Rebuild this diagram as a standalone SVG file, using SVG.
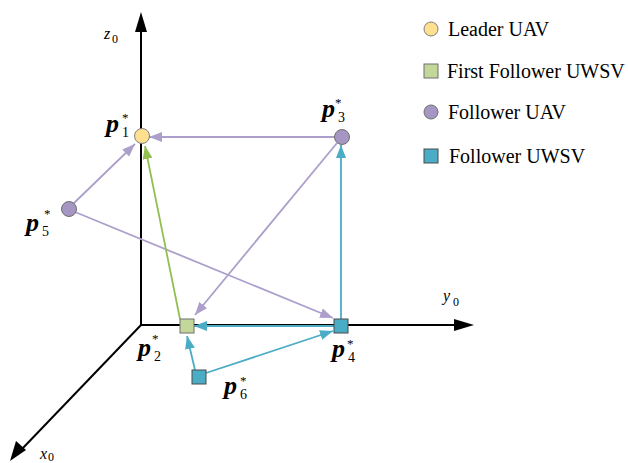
<svg xmlns="http://www.w3.org/2000/svg" width="628" height="463" viewBox="0 0 628 463">
<style>
.axis{stroke:#000;stroke-width:2;fill:none}
.ep{stroke:#AD9FCB;stroke-width:1.8;fill:none;marker-end:url(#mp)}
.eg{stroke:#92C050;stroke-width:1.8;fill:none;marker-end:url(#mg)}
.ec{stroke:#4BACC6;stroke-width:1.8;fill:none;marker-end:url(#mc)}
.leader{fill:#FFE08F;stroke:#7F7F7F;stroke-width:1}
.fuav{fill:#A596C4;stroke:#6E6E6E;stroke-width:1}
.first{fill:#C4D79B;stroke:#6E6E6E;stroke-width:1}
.fuwsv{fill:#4BACC6;stroke:#4A4A4A;stroke-width:1}
text{font-family:"Liberation Serif","Times New Roman",serif;fill:#000}
.pb{font-size:26px;font-weight:bold;font-style:italic}
.sub{font-size:14px}
.star{font-size:13px}
.ax{font-size:16px;font-style:italic}
.axs{font-size:12px}
.leg{font-size:20px}
</style>
<defs>
<marker id="mp" markerUnits="userSpaceOnUse" markerWidth="13" markerHeight="10" refX="13" refY="5" orient="auto"><path d="M0,0 L13,5 L0,10 z" fill="#AD9FCB"/></marker>
<marker id="mg" markerUnits="userSpaceOnUse" markerWidth="13" markerHeight="10" refX="13" refY="5" orient="auto"><path d="M0,0 L13,5 L0,10 z" fill="#92C050"/></marker>
<marker id="mc" markerUnits="userSpaceOnUse" markerWidth="13" markerHeight="10" refX="13" refY="5" orient="auto"><path d="M0,0 L13,5 L0,10 z" fill="#4BACC6"/></marker>
</defs>
<g id="axes">
<line class="axis" x1="141" y1="326" x2="141" y2="30"/>
<polygon points="141,12 135,32 147,32" fill="#000"/>
<line class="axis" x1="140" y1="325" x2="456" y2="325"/>
<polygon points="474,325 454,319 454,331" fill="#000"/>
<line class="axis" x1="141" y1="325" x2="22" y2="449"/>
<polygon points="10,461 16,441 26,450" fill="#000"/>
<text class="ax" x="104" y="39">z</text><text class="axs" x="112" y="43">0</text>
<text class="ax" x="443" y="301">y</text><text class="axs" x="453" y="306">0</text>
<text class="ax" x="40" y="459">x</text><text class="axs" x="48" y="461">0</text>
</g>
<g id="connectors">
<line class="ep" x1="335" y1="137" x2="149" y2="137"/>
<line class="ep" x1="73" y1="204" x2="135" y2="144"/>
<line class="ep" x1="75" y1="212" x2="333" y2="318"/>
<line class="ep" x1="337" y1="143" x2="195" y2="315"/>
<line class="eg" x1="180" y1="319" x2="145" y2="146"/>
<line class="ec" x1="341" y1="319" x2="341" y2="145"/>
<line class="ec" x1="334" y1="326" x2="194" y2="326"/>
<line class="ec" x1="195" y1="370" x2="187" y2="336"/>
<line class="ec" x1="206" y1="373" x2="333" y2="331"/>
</g>
<g id="p1">
<circle class="leader" cx="142" cy="136" r="7.5"/>
<text class="pb" x="106" y="132">p</text><text class="sub" x="122" y="137">1</text><text class="star" x="122" y="122">*</text>
</g>
<g id="p2">
<rect class="first" x="180" y="319" width="14" height="14"/>
<text class="pb" x="138" y="356">p</text><text class="sub" x="154" y="361">2</text><text class="star" x="152" y="343">*</text>
</g>
<g id="p3">
<circle class="fuav" cx="342" cy="137" r="7.5"/>
<text class="pb" x="322" y="117">p</text><text class="sub" x="338" y="122">3</text><text class="star" x="335" y="107">*</text>
</g>
<g id="p4">
<rect class="fuwsv" x="334" y="319" width="14" height="14"/>
<text class="pb" x="332" y="357">p</text><text class="sub" x="348" y="362">4</text><text class="star" x="347" y="348">*</text>
</g>
<g id="p5">
<circle class="fuav" cx="69" cy="209" r="7.5"/>
<text class="pb" x="26" y="231">p</text><text class="sub" x="42" y="236">5</text><text class="star" x="44" y="218">*</text>
</g>
<g id="p6">
<rect class="fuwsv" x="192" y="370" width="14" height="14"/>
<text class="pb" x="224" y="394">p</text><text class="sub" x="240" y="399">6</text><text class="star" x="240" y="385">*</text>
</g>
<g id="legend">
<circle class="leader" cx="431" cy="29" r="7"/>
<text class="leg" x="448" y="36">Leader UAV</text>
<rect class="first" x="424" y="64" width="14" height="14"/>
<text class="leg" x="447" y="78">First Follower UWSV</text>
<circle class="fuav" cx="431" cy="112" r="7"/>
<text class="leg" x="448" y="119">Follower UAV</text>
<rect class="fuwsv" x="424" y="149" width="14" height="14"/>
<text class="leg" x="449" y="163">Follower UWSV</text>
</g>
</svg>
